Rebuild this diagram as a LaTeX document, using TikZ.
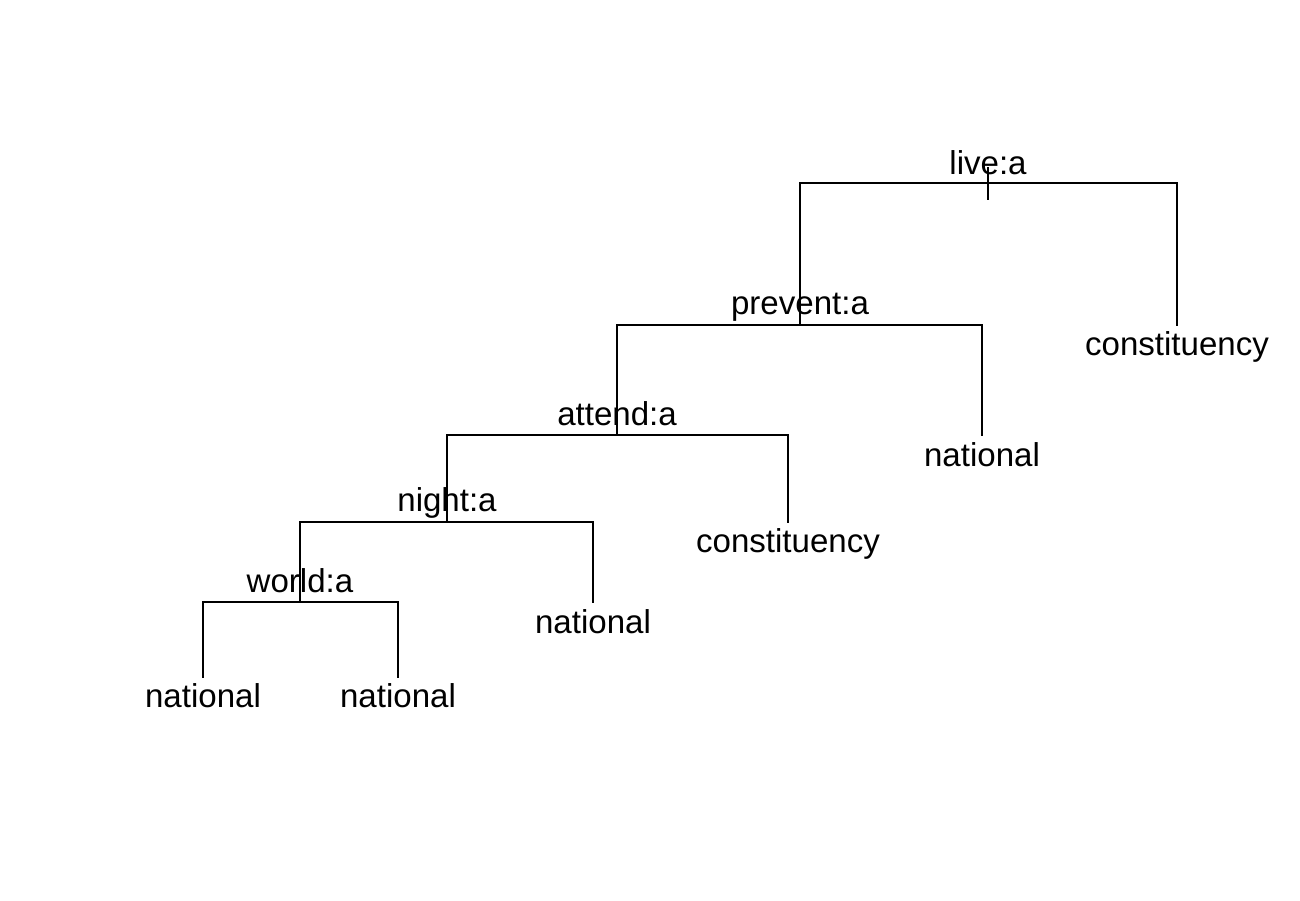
\documentclass[tikz,border=0pt]{standalone}
\usepackage{fontspec}
\setmainfont{Liberation Sans}
\usetikzlibrary{positioning}

\tikzset{
	lbl/.style = {inner sep=0pt, anchor=base, font=\fontsize{9.4}{11}\selectfont},
	branch/.style = {line width=0.6pt, line cap=rect}
}

\begin{document}
\begin{tikzpicture}[x=0.01cm, y=-0.01cm]

	\useasboundingbox (0,0) rectangle (1300,900);

	% junctions
	\coordinate (live) at (988,183);
	\coordinate (prevent) at (800,325);
	\coordinate (attend) at (617,435);
	\coordinate (night) at (447,522);
	\coordinate (world) at (300,602);

	% leaf ends
	\coordinate (c1) at (1177,325);
	\coordinate (n1) at (982,435);
	\coordinate (c2) at (788,522);
	\coordinate (n2) at (593,602);
	\coordinate (n3) at (203,677);
	\coordinate (n4) at (398,677);

	\node[lbl] (live-l) at (988,174) {live:a};
	\node[lbl] (prevent-l) at (800,314) {prevent:a};
	\node[lbl] (attend-l) at (617,425) {attend:a};
	\node[lbl] (night-l) at (447,511) {night:a};
	\node[lbl] (world-l) at (300,592) {world:a};

	\node[lbl] (c1-l) at (1177,355) {constituency};
	\node[lbl] (n1-l) at (982,466) {national};
	\node[lbl] (c2-l) at (788,552) {constituency};
	\node[lbl] (n2-l) at (593,633) {national};
	\node[lbl] (n3-l) at (203,707) {national};
	\node[lbl] (n4-l) at (398,707) {national};

	\draw[branch] ([yshift=0.15cm]live) -- ([yshift=-0.16cm]live);

	\draw[branch] (prevent |- live) -- (c1 |- live);
	\draw[branch] (prevent |- live) -- (prevent);
	\draw[branch] (c1 |- live) -- (c1);

	\draw[branch] (attend |- prevent) -- (n1 |- prevent);
	\draw[branch] (attend |- prevent) -- (attend);
	\draw[branch] (n1 |- prevent) -- (n1);

	\draw[branch] (night |- attend) -- (c2 |- attend);
	\draw[branch] (night |- attend) -- (night);
	\draw[branch] (c2 |- attend) -- (c2);

	\draw[branch] (world |- night) -- (n2 |- night);
	\draw[branch] (world |- night) -- (world);
	\draw[branch] (n2 |- night) -- (n2);

	\draw[branch] (n3 |- world) -- (n4 |- world);
	\draw[branch] (n3 |- world) -- (n3);
	\draw[branch] (n4 |- world) -- (n4);

\end{tikzpicture}
\end{document}
